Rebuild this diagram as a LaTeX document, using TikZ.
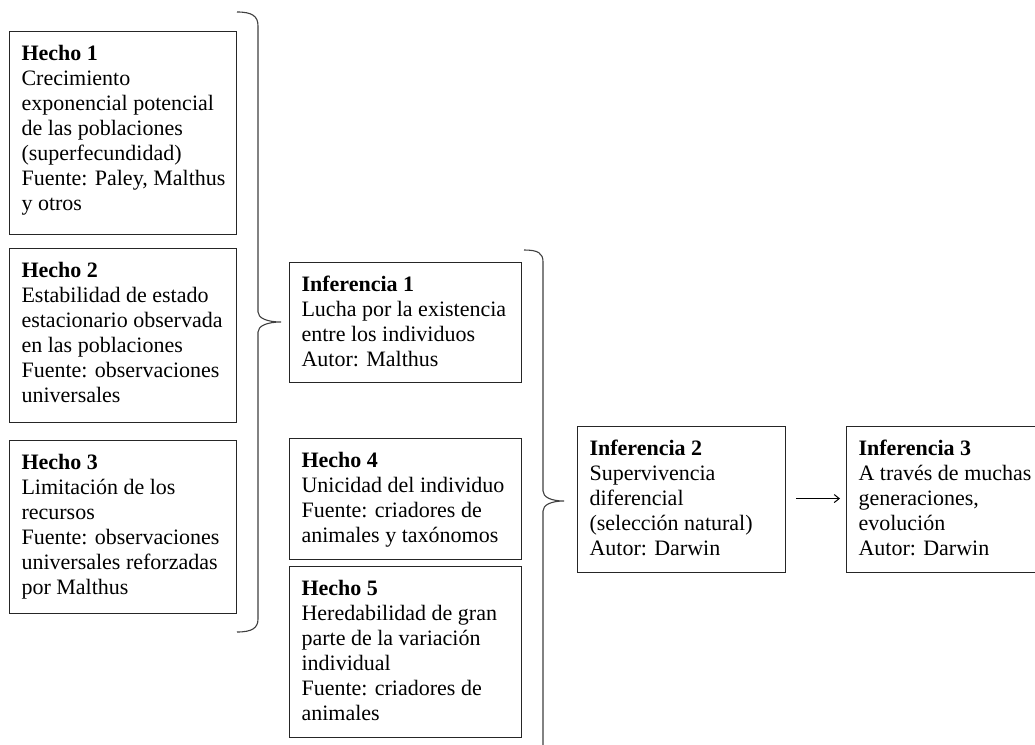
\documentclass[tikz,border=0pt]{standalone}
\usepackage{fontspec}
\setmainfont{Liberation Serif}
\usetikzlibrary{arrows.meta}

% text block of a given outer width and height: left margin, text set from the top
\newcommand{\boxtext}[3]{\hspace*{12pt}\parbox[c][#2][t]{\dimexpr#1-12pt\relax}{\raggedright\rule{0pt}{29pt}#3}}

\tikzset{
  card/.style={draw=black!85, line width=1.1pt, anchor=north west,
    inner sep=0pt, font=\fontsize{22}{25}\selectfont},
  brace/.style={draw=black!75, line width=1.1pt},
  link/.style={draw=black, line width=1pt, -{Straight Barb[length=5pt,width=8pt]}}
}

\begin{document}
\begin{tikzpicture}[x=1pt, y=-1pt]
  \useasboundingbox (0,0) rectangle (1035,744);
  \fill[white] (0,0) rectangle (1035,744);
  \clip (0,0) rectangle (1035,744);

  % first column: facts 1-3
  \node[card] (h1) at (9,31) {\boxtext{227pt}{203pt}{\textbf{Hecho 1}\\
    Crecimiento\\ exponencial potencial\\ de las poblaciones\\
    (superfecundidad)\\ Fuente: Paley, Malthus\\ y otros}};
  \node[card] (h2) at (9,248) {\boxtext{227pt}{174pt}{\textbf{Hecho 2}\\
    Estabilidad de estado\\ estacionario observada\\ en las poblaciones\\
    Fuente: observaciones\\ universales}};
  \node[card] (h3) at (9,440) {\boxtext{227pt}{173pt}{\textbf{Hecho 3}\\
    Limitación de los\\ recursos\\ Fuente: observaciones\\
    universales reforzadas\\ por Malthus}};

  % brace grouping facts 1-3
  \draw[brace] (237,12) .. controls (252,12) and (258,16) .. (258,26)
    -- (258,312) .. controls (258,318) and (267,322) .. (281,322)
    .. controls (267,322) and (258,326) .. (258,332)
    -- (258,619) .. controls (258,628) and (252,632) .. (237,632);

  % second column
  \node[card] (i1) at (289,262) {\boxtext{232pt}{120pt}{\textbf{Inferencia 1}\\
    Lucha por la existencia\\ entre los individuos\\ Autor: Malthus}};
  \node[card] (h4) at (289,438) {\boxtext{232pt}{121pt}{\textbf{Hecho 4}\\
    Unicidad del individuo\\ Fuente: criadores de\\ animales y taxónomos}};
  \node[card] (h5) at (289,566) {\boxtext{232pt}{171pt}{\textbf{Hecho 5}\\
    Heredabilidad de gran\\ parte de la variación\\ individual\\
    Fuente: criadores de\\ animales}};

  % brace grouping inference 1 with facts 4-5
  \draw[brace] (524,250) .. controls (538,250) and (543,253) .. (543,262)
    -- (543,491) .. controls (543,497) and (551,501) .. (564,501)
    .. controls (551,501) and (543,505) .. (543,511)
    -- (543,750);

  % third and fourth columns
  \node[card] (i2) at (577,426) {\boxtext{208pt}{146pt}{\textbf{Inferencia 2}\\
    Supervivencia\\ diferencial\\ (selección natural)\\ Autor: Darwin}};
  \node[card] (i3) at (846,426) {\boxtext{212pt}{146pt}{\textbf{Inferencia 3}\\
    A través de muchas\\ generaciones,\\ evolución\\ Autor: Darwin}};

  \draw[link] ([xshift=10pt,yshift=1pt]i2.east) -- ([xshift=-6pt,yshift=1pt]i3.west);
\end{tikzpicture}
\end{document}
